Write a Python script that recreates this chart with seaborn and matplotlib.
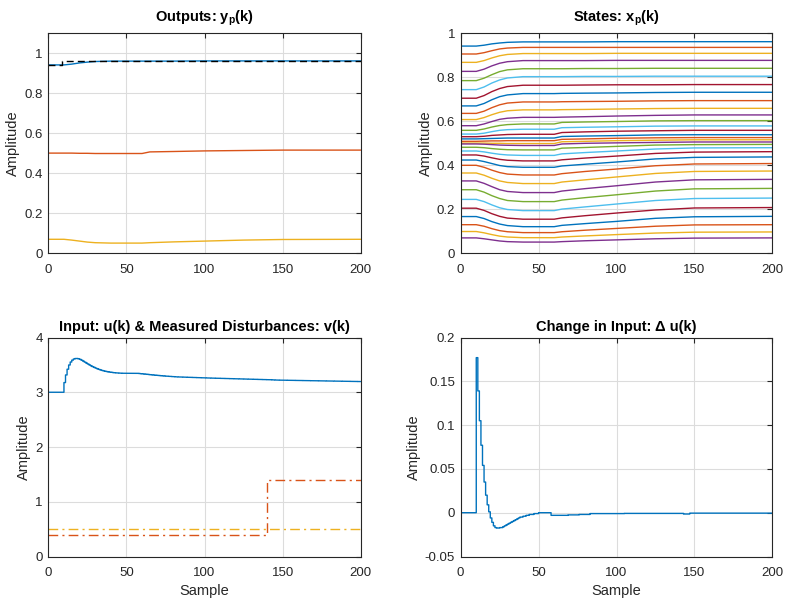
import numpy as np
import pandas as pd
import matplotlib
matplotlib.use("Agg")
import matplotlib.pyplot as plt
from matplotlib.ticker import FuncFormatter
import seaborn as sns

# ---------------- data ----------------
sample_knots = [0, 10, 15, 20, 25, 30, 40, 60, 65, 80, 100, 125, 150, 200]

x01 = [.942, .942, .946, .952, .956, .959, .961, .961, .961, .961, .962, .962, .962, .962]
x02 = [.906, .906, .912, .921, .929, .933, .936, .936, .936, .936, .936, .936, .936, .936]
x03 = [.868, .868, .876, .888, .898, .904, .908, .908, .908, .908, .909, .909, .909, .909]
x04 = [.827, .827, .837, .852, .864, .871, .876, .876, .876, .876, .877, .877, .877, .877]
x05 = [.785, .785, .796, .812, .826, .834, .839, .839, .839, .840, .840, .841, .841, .841]
x06 = [.744, .744, .756, .774, .788, .797, .803, .803, .803, .804, .804, .805, .805, .805]
x07 = [.705, .705, .717, .735, .749, .758, .764, .764, .764, .765, .766, .766, .767, .767]
x08 = [.670, .670, .681, .698, .712, .720, .726, .726, .727, .728, .729, .731, .732, .732]
x09 = [.636, .636, .646, .662, .675, .683, .688, .688, .689, .690, .691, .693, .694, .694]
x10 = [.608, .608, .617, .630, .641, .648, .652, .652, .653, .654, .656, .658, .659, .659]
x11 = [.580, .580, .588, .599, .609, .614, .618, .618, .619, .621, .624, .627, .629, .629]
x12 = [.559, .559, .565, .574, .581, .585, .588, .588, .595, .597, .599, .602, .603, .603]
x13 = [.542, .542, .546, .553, .559, .562, .564, .564, .571, .573, .575, .578, .579, .579]
x14 = [.530, .530, .532, .536, .538, .540, .541, .541, .549, .552, .555, .557, .559, .559]
x15 = [.520, .520, .521, .522, .523, .524, .524, .524, .531, .533, .535, .538, .539, .539]
x16 = [.509, .509, .510, .511, .511, .512, .512, .512, .518, .520, .523, .525, .526, .526]
x17 = [.501, .501, .501, .500, .500, .499, .499, .499, .507, .509, .512, .514, .516, .516]
x18 = [.497, .497, .496, .494, .492, .491, .490, .490, .497, .500, .502, .504, .506, .506]
x19 = [.482, .482, .480, .476, .473, .471, .470, .470, .478, .481, .486, .492, .494, .495]
x20 = [.465, .465, .461, .455, .450, .447, .445, .445, .452, .458, .465, .474, .479, .480]
x21 = [.447, .447, .442, .434, .427, .423, .420, .420, .425, .433, .442, .454, .460, .462]
x22 = [.424, .424, .417, .408, .399, .394, .391, .391, .397, .405, .415, .429, .436, .438]
x23 = [.400, .400, .391, .378, .367, .360, .356, .356, .362, .372, .383, .398, .406, .408]
x24 = [.365, .365, .355, .341, .329, .322, .317, .317, .324, .334, .347, .363, .372, .374]
x25 = [.329, .329, .318, .303, .289, .281, .276, .276, .283, .294, .307, .324, .334, .336]
x26 = [.289, .289, .278, .262, .249, .240, .235, .235, .242, .253, .266, .283, .293, .295]
x27 = [.245, .245, .235, .220, .207, .199, .194, .194, .201, .211, .224, .240, .249, .251]
x28 = [.205, .205, .195, .180, .168, .160, .155, .155, .161, .171, .183, .197, .206, .208]
x29 = [.167, .167, .158, .144, .133, .126, .121, .121, .127, .135, .145, .159, .166, .168]
x30 = [.130, .130, .123, .112, .103, .098, .094, .094, .098, .105, .113, .123, .129, .130]
x31 = [.099, .099, .093, .085, .078, .074, .071, .071, .074, .079, .085, .092, .096, .097]
x32 = [.070, .070, .066, .061, .056, .053, .051, .051, .053, .057, .061, .066, .069, .070]

# measured outputs are states 1, 17 and 32
output_y1 = x01
output_y2 = x17
output_y3 = x32

# setpoint for output 1 (stairs)
ref_k = [0, 9, 200]
ref_y1 = [0.942, 0.963, 0.963]

# change in input, one value per sample k = 0..199
du_values = ([0.0] * 10
             + [0.177, 0.139, 0.105, 0.077, 0.054, 0.035, 0.020, 0.009, 0.001]
             + [-0.006, -0.011, -0.015, -0.017, -0.0175, -0.0175, -0.017, -0.017,
                -0.016, -0.015, -0.014, -0.013, -0.012, -0.011, -0.010, -0.009,
                -0.008, -0.007, -0.006, -0.005, -0.005, -0.004, -0.004, -0.003,
                -0.003, -0.002, -0.002, -0.002, -0.001, -0.001, -0.001]
             + [0.0] * 8
             + [-0.003] * 11 + [-0.0025] * 7 + [-0.002] * 7 + [-0.001] * 22
             + [-0.0008] * 38 + [-0.0015] * 4 + [-0.0005] * 53)
u_initial = 3.0

# measured disturbances (stairs)
dist_k = [0, 140, 200]
dist_v1 = [0.4, 1.4, 1.4]
dist_v2 = [0.5, 0.5, 0.5]

# ---------------- style ----------------
matlab_colors = ["#0072BD", "#D95319", "#EDB120", "#7E2F8E",
                 "#77AC30", "#4DBEEE", "#A2142F"]
axis_color = "#262626"

sns.set_theme(style="white")
plt.rcParams.update({
    "font.family": ["Liberation Sans", "DejaVu Sans"],
    "mathtext.fontset": "custom",
    "mathtext.rm": "Liberation Sans",
    "mathtext.bf": "Liberation Sans:bold",
    "axes.unicode_minus": False,
    "axes.edgecolor": axis_color,
    "axes.linewidth": 0.8,
    "axes.labelcolor": axis_color,
    "xtick.color": axis_color,
    "ytick.color": axis_color,
    "text.color": "black",
})

fig = plt.figure(figsize=(7.91, 6.08), dpi=100)
left_col = (0.0611, 0.3949)
right_col = (0.5824, 0.3940)
top_row = (0.5834, 0.3618)
bot_row = (0.0847, 0.3602)
ax_out = fig.add_axes([left_col[0], top_row[0], left_col[1], top_row[1]])
ax_st = fig.add_axes([right_col[0], top_row[0], right_col[1], top_row[1]])
ax_in = fig.add_axes([left_col[0], bot_row[0], left_col[1], bot_row[1]])
ax_du = fig.add_axes([right_col[0], bot_row[0], right_col[1], bot_row[1]])

fmt = FuncFormatter(lambda v, p: "%g" % round(v, 6))
lw = 1.0


def style_axes(ax, title, title_pad, xlabel=None):
    ax.set_xlim(0, 200)
    ax.set_xticks([0, 50, 100, 150, 200])
    ax.xaxis.set_major_formatter(fmt)
    ax.yaxis.set_major_formatter(fmt)
    ax.grid(True, color="#dcdcdc", linewidth=0.8)
    ax.set_axisbelow(True)
    ax.tick_params(direction="in", top=True, right=True, length=3.5,
                   width=0.8, labelsize=9.5)
    ax.tick_params(axis="x", pad=7.5)
    ax.tick_params(axis="y", pad=4)
    ax.set_title(title, fontsize=10.5, fontweight="bold", pad=title_pad)
    ax.set_ylabel("Amplitude", fontsize=10.5, labelpad=3)
    if xlabel:
        ax.set_xlabel(xlabel, fontsize=10.5, labelpad=4)
    else:
        ax.set_xlabel("")
    for s in ax.spines.values():
        s.set_visible(True)
        s.set_color(axis_color)


# ---- Outputs ----
out_df = pd.DataFrame({
    "k": sample_knots * 3,
    "y": output_y1 + output_y2 + output_y3,
    "out": ["y1"] * 14 + ["y2"] * 14 + ["y3"] * 14,
})
sns.lineplot(data=out_df, x="k", y="y", hue="out", palette=matlab_colors[:3],
             ax=ax_out, legend=False, estimator=None, linewidth=lw)
sns.lineplot(x=ref_k, y=ref_y1, ax=ax_out, color="black", linewidth=lw,
             drawstyle="steps-post", linestyle=(0, (5, 3)))
ax_out.set_ylim(0, 1.1)
ax_out.set_yticks([0, 0.2, 0.4, 0.6, 0.8, 1.0])
style_axes(ax_out, r"Outputs: y$_\mathbf{p}$(k)", 8.5)

# ---- States ----
states = [x01, x02, x03, x04, x05, x06, x07, x08, x09, x10, x11, x12, x13, x14,
          x15, x16, x17, x18, x19, x20, x21, x22, x23, x24, x25, x26, x27, x28,
          x29, x30, x31, x32]
st_df = pd.DataFrame({
    "k": sample_knots * len(states),
    "x": [v for s in states for v in s],
    "state": [i for i in range(len(states)) for _ in sample_knots],
})
st_palette = [matlab_colors[i % 7] for i in range(len(states))]
sns.lineplot(data=st_df, x="k", y="x", hue="state", palette=st_palette,
             ax=ax_st, legend=False, estimator=None, linewidth=lw)
ax_st.set_ylim(0, 1)
ax_st.set_yticks([0, 0.2, 0.4, 0.6, 0.8, 1.0])
style_axes(ax_st, r"States: x$_\mathbf{p}$(k)", 8.5)

# ---- Input & measured disturbances ----
k_all = list(range(201))
du_arr = np.array(du_values + [du_values[-1]])
u_arr = u_initial + np.cumsum(np.array(du_values))
u_arr = np.append(u_arr, u_arr[-1])
sns.lineplot(x=k_all, y=u_arr, ax=ax_in, color=matlab_colors[0], linewidth=lw,
             drawstyle="steps-post", snap=False)
sns.lineplot(x=dist_k, y=dist_v1, ax=ax_in, color=matlab_colors[1], linewidth=lw,
             drawstyle="steps-post", linestyle=(0, (7, 3, 1.5, 3)))
sns.lineplot(x=dist_k, y=dist_v2, ax=ax_in, color=matlab_colors[2], linewidth=lw,
             drawstyle="steps-post", linestyle=(0, (7, 3, 1.5, 3)))
ax_in.set_ylim(0, 4)
ax_in.set_yticks([0, 1, 2, 3, 4])
style_axes(ax_in, "Input: u(k) & Measured Disturbances: v(k)", 5, "Sample")

# ---- Change in input ----
sns.lineplot(x=k_all, y=du_arr, ax=ax_du, color=matlab_colors[0], linewidth=lw,
             drawstyle="steps-post", snap=False)
ax_du.set_ylim(-0.05, 0.2)
ax_du.set_yticks([-0.05, 0, 0.05, 0.1, 0.15, 0.2])
style_axes(ax_du, "Change in Input: \u0394 u(k)", 5, "Sample")

fig.savefig("out.png", dpi=100, facecolor="white")
